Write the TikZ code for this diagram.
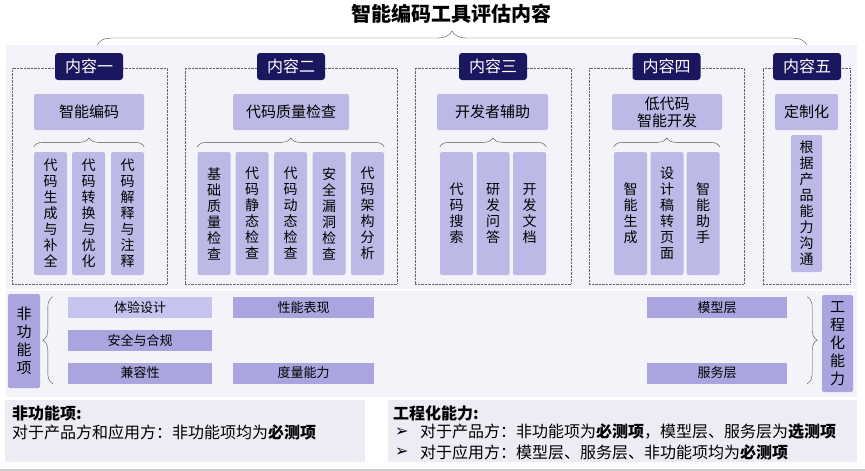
\documentclass[tikz,border=0pt]{standalone}
\usepackage{fontspec}
\setmainfont{Noto Sans CJK SC}
\newfontfamily\symfont{DejaVu Sans}
\usetikzlibrary{decorations.pathreplacing}
\definecolor{navy}{HTML}{1B1660}
\definecolor{lav}{HTML}{BDB9E7}
\definecolor{lavd}{HTML}{AAA5DE}
\definecolor{lavl}{HTML}{C6C3EE}
\definecolor{pnl}{HTML}{F3F3F9}
\definecolor{pnlb}{HTML}{ECECF4}
\ExplSyntaxOn
\NewDocumentCommand\vtxt{m}{
  \tl_set:No \l_tmpa_tl {#1}
  \seq_clear:N \l_tmpa_seq
  \tl_map_inline:Nn \l_tmpa_tl {\seq_put_right:Nn \l_tmpa_seq {##1}}
  \seq_use:Nn \l_tmpa_seq {\\}
}
\ExplSyntaxOff
\tikzset{frm/.style={draw=black!60, densely dotted, minimum height=216, inner sep=0pt}}
\tikzset{hdr/.style={fill=navy, text=white, rounded corners=3pt, inner sep=0pt, minimum width=68, minimum height=27, font=\fontsize{16}{18}\selectfont}}
\tikzset{cat/.style={fill=lav, rounded corners=2pt, inner sep=0pt, minimum height=36, align=center, font=\fontsize{15}{17}\selectfont}}
\tikzset{col/.style={fill=lav, rounded corners=2pt, inner sep=0pt, minimum width=33, minimum height=123, align=center, font=\fontsize{14}{16}\selectfont}}
\tikzset{itm/.style={fill=lavd, inner sep=0pt, minimum width=144, minimum height=21, font=\fontsize{13}{15}\selectfont}}
\tikzset{side/.style={fill=lavd, rounded corners=2pt, inner sep=0pt, minimum width=32, align=center, font=\fontsize{15}{18}\selectfont}}
\tikzset{brc/.style={decorate, decoration={brace, amplitude=#1}, draw=black!70, thin}}
\tikzset{txt/.style={anchor=west, inner sep=0pt, font=\fontsize{16}{18}\selectfont}}

\begin{document}
\begin{tikzpicture}[x=1pt,y=-1pt]
\useasboundingbox (0,0) rectangle (865,471);
% panels
\fill[pnl] (6,45) rectangle (857,289);
\fill[pnl] (6,291) rectangle (857,397);
\fill[pnlb] (5,400) rectangle (365,462);
\fill[pnlb] (388,400) rectangle (857,462);
\draw[black!20, line width=1.5pt] (0,470) -- (865,470);

\node[font=\fontsize{20}{24}\selectfont\bfseries] (title) at (451,14) {智能编码工具评估内容};
\coordinate (tl) at (97,45);
\coordinate (tr) at (807,45);
\draw[brc=14] (tl) -- (tr);

% five groups
\foreach \x/\w [count=\i] in {89.5/155,291/212,493/156,666.5/155,806.5/87}{
\node[frm, minimum width=\w] (f\i) at (\x,176) {};
}
\foreach \x/\lbl [count=\i] in {89/内容一,291/内容二,493/内容三,666.5/内容四,807/内容五}{
\node[hdr] (h\i) at (\x,66.5) {\lbl};
}
\node[cat, minimum width=110] (k1) at (89,112) {智能编码};
\node[cat, minimum width=116] (k2) at (291,112) {代码质量检查};
\node[cat, minimum width=111] (k3) at (492.5,112) {开发者辅助};
\node[cat, minimum width=110] (k4) at (667,112) {低代码\\智能开发};
\node[cat, minimum width=63] (k5) at (806.5,112) {定制化};

\foreach \x/\lbl [count=\i] in {50.5/代码生成与补全,88.5/代码转换与优化,127.5/代码解释与注释}{
\node[col] (a\i) at (\x,213.5) {\vtxt{\lbl}};
}
\foreach \x/\lbl [count=\i] in {214/基础质量检查,252/代码静态检查,290.5/代码动态检查,329/安全漏洞检查,367.5/代码架构分析}{
\node[col] (b\i) at (\x,213.5) {\vtxt{\lbl}};
}
\foreach \x/\lbl [count=\i] in {456.5/代码搜索,493/研发问答,529.5/开发文档}{
\node[col] (c\i) at (\x,213.5) {\vtxt{\lbl}};
}
\foreach \x/\lbl [count=\i] in {630.5/智能生成,667/设计稿转页面,703/智能助手}{
\node[col] (d\i) at (\x,213.5) {\vtxt{\lbl}};
}
\node[col, minimum width=31, minimum height=137] (e1) at (806.5,203.5) {\vtxt{根据产品能力沟通}};

\draw[brc=9] ([yshift=5pt]a1.north west) -- ([yshift=5pt]a3.north east);
\draw[brc=9] ([yshift=5pt]b1.north west) -- ([yshift=5pt]b5.north east);
\draw[brc=9] ([yshift=5pt]c1.north west) -- ([yshift=5pt]c3.north east);
\draw[brc=9] ([yshift=5pt]d1.north west) -- ([yshift=5pt]d3.north east);

% non-functional and engineering
\node[side, minimum height=94] (nf) at (24,341) {\vtxt{非功能项}};
\node[itm, fill=lavl] (n1) at (140,307.5) {体验设计};
\node[itm] (n2) at (140,340.5) {安全与合规};
\node[itm] (n3) at (140,373) {兼容性};
\node[itm, minimum width=141] (n4) at (303.5,307.5) {性能表现};
\node[itm, minimum width=141] (n5) at (303.5,373) {度量能力};
\draw[brc=10] ([xshift=-15pt]n3.south west) -- ([xshift=-15pt]n1.north west);

\node[itm, minimum width=140] (m1) at (717,307.5) {模型层};
\node[itm, minimum width=140] (m2) at (717,373) {服务层};
\node[side, minimum width=31, minimum height=97] (eng) at (837.5,343.5) {\vtxt{工程化能力}};
\draw[brc=10] ([xshift=20pt]m1.north east) -- ([xshift=20pt]m2.south east);

% notes
\node[txt, font=\fontsize{16}{18}\selectfont\bfseries] (p1) at (12,413) {非功能项:};
\node[txt] (p2) at (12,432) {对于产品方和应用方：非功能项均为\textbf{必测项}};
\node[txt, font=\fontsize{16}{18}\selectfont\bfseries] (q1) at (393,413) {工程化能力:};
\node[txt, font=\fontsize{16}{18}\symfont] (q2) at (395,432) {➢};
\node[txt] (q3) at (420,432) {对于产品方：非功能项为\textbf{必测项}，模型层、服务层为\textbf{选测项}};
\node[txt, font=\fontsize{16}{18}\symfont] (q4) at (395,452) {➢};
\node[txt] (q5) at (420,452) {对于应用方：模型层、服务层、非功能项均为\textbf{必测项}};
\end{tikzpicture}
\end{document}
